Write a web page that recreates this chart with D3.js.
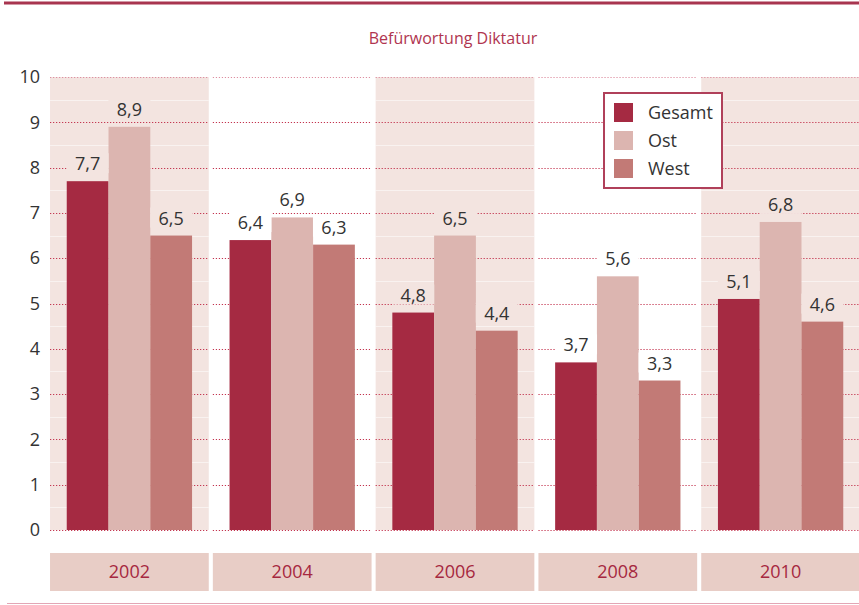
<!DOCTYPE html>
<html><head><meta charset="utf-8">
<script src="https://cdn.jsdelivr.net/npm/d3@7"></script>
<style>
html,body{margin:0;padding:0;background:#fff;}
svg{display:block;font-family:"Open Sans",sans-serif;}
</style></head>
<body><svg id="chart" width="859" height="605"></svg>
<script>
const title = "Befürwortung Diktatur";
const years = ["2002","2004","2006","2008","2010"];
const seriesNames = ["Gesamt","Ost","West"];
const gesamt = [7.7, 6.4, 4.8, 3.7, 5.1];
const ost    = [8.9, 6.9, 6.5, 5.6, 6.8];
const west   = [6.5, 6.3, 4.4, 3.3, 4.6];
const yTicks = [0,1,2,3,4,5,6,7,8,9,10];
const colors = ["#a52a42", "#dcb5b0", "#c27a76"];

const seriesValues = [gesamt, ost, west];
const data = years.map((y, i) => ({year: y, values: seriesNames.map((s, j) => ({key: s, value: seriesValues[j][i], idx: j}))}));

const svg = d3.select("#chart");
const x0 = d3.scaleBand().domain(years).range([48, 862]).paddingInner(0.025).paddingOuter(0.0125);
const x1 = d3.scaleBand().domain(seriesNames).range([0, x0.bandwidth()]).paddingInner(0).paddingOuter(0.4);
const y = d3.scaleLinear().domain([0, 10]).range([530, 77]);
const shadeColor = "#f3e4e0";

// top and bottom rules
svg.append("line").attr("x1", 4).attr("x2", 859).attr("y1", 3).attr("y2", 3)
  .attr("stroke", "#a8354f").attr("stroke-width", 3);
svg.append("line").attr("x1", 7).attr("x2", 859).attr("y1", 603.5).attr("y2", 603.5)
  .attr("stroke", "#e3a6b5").attr("stroke-width", 1);

// title
svg.append("text").attr("x", 453).attr("y", 44).attr("text-anchor", "middle")
  .attr("font-size", 16).attr("fill", "#b03550").text(title);

// band shading
const bands = svg.append("g").selectAll("g").data(data).join("g")
  .attr("transform", d => `translate(${x0(d.year)},0)`);
bands.filter((d, i) => i % 2 === 0).append("rect")
  .attr("x", 0).attr("width", x0.bandwidth())
  .attr("y", y(10)).attr("height", y(0) - y(10)).attr("fill", shadeColor);

// faint half gridlines
const halfTicks = yTicks.slice(0, -1).map(t => t + 0.5);
bands.each(function() {
  const g = d3.select(this);
  g.selectAll("line.half").data(halfTicks).join("line").attr("class", "half")
    .attr("x1", 0).attr("x2", x0.bandwidth())
    .attr("y1", t => Math.round(y(t)) + 0.5).attr("y2", t => Math.round(y(t)) + 0.5)
    .attr("stroke", "#ffffff").attr("stroke-opacity", 0.5).attr("stroke-width", 1);
});
// dotted gridlines per band
bands.each(function() {
  const g = d3.select(this);
  g.selectAll("line.grid").data(yTicks).join("line").attr("class", "grid")
    .attr("x1", 0).attr("x2", x0.bandwidth())
    .attr("y1", t => Math.round(y(t)) + 0.5).attr("y2", t => Math.round(y(t)) + 0.5)
    .attr("stroke", t => t === 10 ? "#dd8ea0" : "#c3344f")
    .attr("stroke-width", 1.2).attr("stroke-dasharray", "1.2,1.8");
});

// bars
bands.selectAll("rect.bar").data(d => d.values).join("rect").attr("class", "bar")
  .attr("x", d => x1(d.key)).attr("width", x1.bandwidth())
  .attr("y", d => y(d.value)).attr("height", d => y(0) - y(d.value))
  .attr("fill", d => colors[d.idx]);

// value labels with background
const fmt = v => d3.format(".1f")(v).replace(".", ",");
bands.each(function(d, i) {
  const g = d3.select(this);
  const bg = i % 2 === 0 ? shadeColor : "#ffffff";
  const lab = g.selectAll("g.lab").data(d.values).join("g").attr("class", "lab")
    .attr("transform", v => `translate(${x1(v.key) + x1.bandwidth() / 2},${y(v.value) - 11})`);
  lab.append("rect").attr("x", -21).attr("width", 42).attr("y", -17).attr("height", 20).attr("fill", bg);
  lab.append("text").attr("text-anchor", "middle").attr("font-size", 18).attr("fill", "#333")
    .text(v => fmt(v.value));
});

// y-axis tick labels
const yAxis = d3.axisLeft(y).tickValues(yTicks).tickSize(0).tickPadding(0).tickFormat(d3.format("d"));
const ya = svg.append("g").attr("transform", "translate(40,0)").call(yAxis);
ya.select(".domain").remove();
ya.selectAll("text").attr("font-size", 18).attr("fill", "#333").attr("font-family", "Open Sans, sans-serif");

// bottom category boxes
const cat = svg.append("g").selectAll("g").data(years).join("g")
  .attr("transform", d => `translate(${x0(d)},553)`);
cat.append("rect").attr("width", x0.bandwidth()).attr("height", 38).attr("fill", "#e8cdc6");
cat.append("text").attr("x", x0.bandwidth() / 2).attr("y", 19).attr("dy", "0.35em")
  .attr("text-anchor", "middle").attr("font-size", 18).attr("fill", "#a6283f").text(d => d);

// legend
const lg = svg.append("g").attr("transform", "translate(604,93)");
lg.append("rect").attr("x", 0).attr("y", 0).attr("width", 118).attr("height", 95)
  .attr("fill", "#fff").attr("stroke", "#b0405a").attr("stroke-width", 2);
const li = lg.selectAll("g.item").data(seriesNames).join("g").attr("class", "item")
  .attr("transform", (d, i) => `translate(10,${10 + i * 28})`);
li.append("rect").attr("width", 19).attr("height", 19).attr("fill", (d, i) => colors[i]);
li.append("text").attr("x", 34).attr("y", 10).attr("dy", "0.35em").attr("font-size", 18)
  .attr("fill", "#333").text(d => d);
</script></body></html>
